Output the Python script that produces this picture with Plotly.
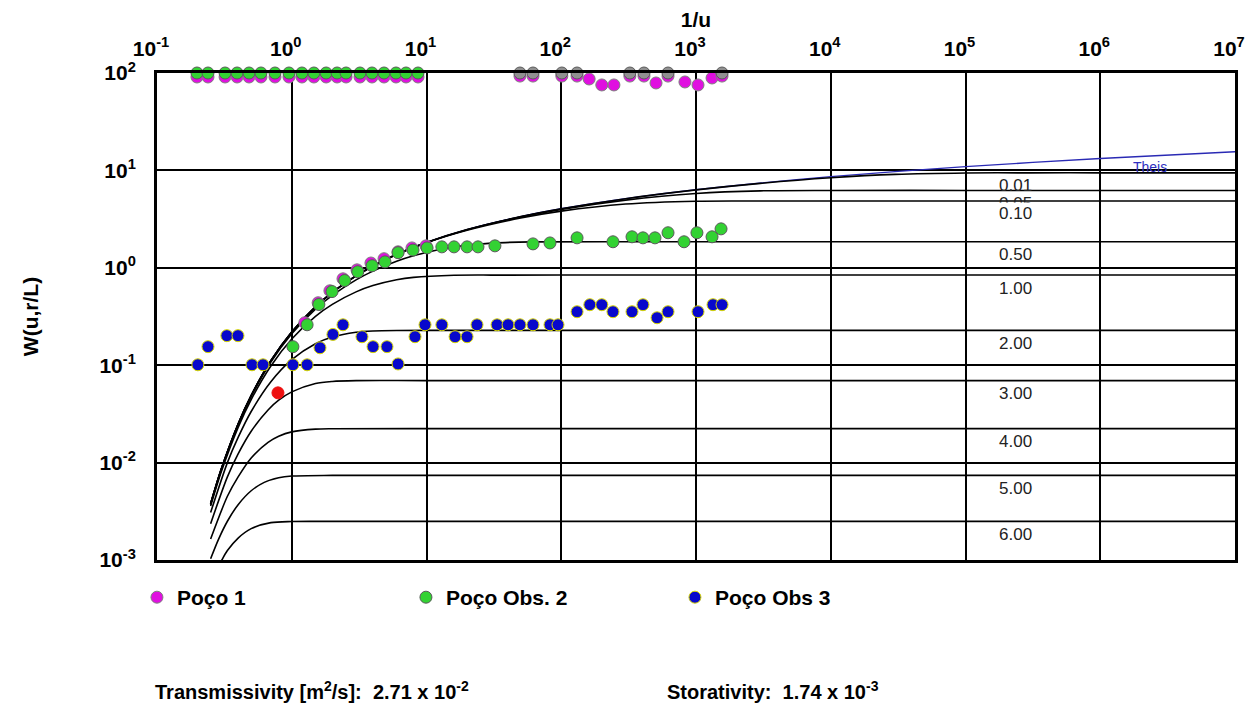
import math
import plotly.graph_objects as go

# ---------------- data ----------------
# x-axis: 1/u ; y-axis: W(u, r/L)
x_ticks = [0.1, 1, 10, 100, 1000, 10000, 100000, 1000000, 10000000]
x_tick_labels = ["10<sup>-1</sup>", "10<sup>0</sup>", "10<sup>1</sup>", "10<sup>2</sup>", "10<sup>3</sup>",
                 "10<sup>4</sup>", "10<sup>5</sup>", "10<sup>6</sup>", "10<sup>7</sup>"]
y_ticks = [0.001, 0.01, 0.1, 1, 10, 100]
y_tick_labels = ["10<sup>-3</sup>", "10<sup>-2</sup>", "10<sup>-1</sup>", "10<sup>0</sup>", "10<sup>1</sup>", "10<sup>2</sup>"]

# Theis type curve
theis_x = [0.25, 0.3, 0.4, 0.5, 0.7, 1, 1.5, 2, 3, 5, 7, 10, 20, 50, 100, 300, 1000, 1e4, 1e5, 1e6, 1e7]
theis_w = [0.00378, 0.00858, 0.02491, 0.0489, 0.1113, 0.2194, 0.3989, 0.5598, 0.829, 1.2227, 1.5068,
           1.8229, 2.4679, 3.3547, 4.0379, 5.130, 6.3315, 8.6332, 10.9357, 13.2383, 15.5409]

# leaky type curves, r/L labels
curve_labels = ["0.01", "0.05", "0.10", "0.50", "1.00", "2.00", "3.00", "4.00", "5.00", "6.00"]

c001_x = [0.25, 0.3, 0.4, 0.5, 0.7, 1, 1.5, 2, 3, 5, 7, 10, 20, 50, 100, 300, 1000, 3000, 1e4, 3e4, 1e5, 3e5, 1e6, 1e7]
c001_w = [0.00378, 0.00858, 0.02491, 0.0489, 0.1113, 0.2194, 0.3989, 0.5598, 0.829, 1.2227, 1.5068, 1.8229,
          2.4679, 3.3545, 4.035, 5.122, 6.307, 7.356, 8.398, 9.102, 9.418, 9.441, 9.4425, 9.4425]

c005_x = [0.25, 0.3, 0.4, 0.5, 0.7, 1, 1.5, 2, 3, 5, 7, 10, 20, 40, 100, 300, 1000, 3000, 1e4, 1e5, 1e7]
c005_w = [0.00378, 0.00857, 0.02489, 0.0488, 0.1111, 0.2190, 0.3980, 0.5585, 0.8272, 1.2195, 1.5025, 1.818,
          2.458, 3.114, 3.980, 4.953, 5.797, 6.170, 6.226, 6.2285, 6.2285]

c010_x = [0.25, 0.3, 0.4, 0.5, 0.7, 1, 1.5, 2, 3, 5, 10, 20, 50, 100, 300, 1000, 3000, 1e4, 1e7]
c010_w = [0.00378, 0.00857, 0.02489, 0.0488, 0.1112, 0.2190, 0.3980, 0.5594, 0.8257, 1.2155, 1.805, 2.427,
          3.244, 3.815, 4.514, 4.829, 4.852, 4.854, 4.854]

c050_x = [0.25, 0.3, 0.4, 0.5, 0.7, 1, 1.5, 2, 3, 4, 6, 8, 12, 16, 32, 64, 200, 1e7]
c050_w = [0.0037, 0.00845, 0.02441, 0.0477, 0.1078, 0.2103, 0.3764, 0.5207, 0.7513, 0.9244, 1.1667, 1.328,
          1.526, 1.6385, 1.8011, 1.845, 1.8488, 1.8488]

c100_x = [0.25, 0.3, 0.4, 0.5, 0.7, 1, 1.5, 2, 3, 4, 6, 8, 16, 32, 100, 1e7]
c100_w = [0.00358, 0.00805, 0.02301, 0.0444, 0.0981, 0.1855, 0.3172, 0.4210, 0.566, 0.6565, 0.7534, 0.7976,
          0.8384, 0.8418, 0.842, 0.842]

c200_x = [0.25, 0.333, 0.4, 0.5, 0.7, 1, 1.5, 2, 3, 4, 6, 10, 1e7]
c200_w = [0.00307, 0.0100, 0.01814, 0.03347, 0.0676, 0.1139, 0.1659, 0.1943, 0.2178, 0.2247, 0.2275, 0.2278, 0.2278]

c300_x = [0.25, 0.333, 0.4, 0.5, 0.667, 0.8, 1, 1.5, 2, 3, 10, 1e7]
c300_w = [0.00236, 0.00714, 0.0123, 0.0210, 0.0347, 0.0437, 0.0532, 0.0649, 0.0681, 0.0694, 0.06949, 0.06949]

c400_x = [0.25, 0.333, 0.4, 0.5, 0.667, 0.8, 1, 1.5, 2, 10, 1e7]
c400_w = [0.00164, 0.00451, 0.00713, 0.01116, 0.01613, 0.01863, 0.02068, 0.02209, 0.02229, 0.02232, 0.02232]

c500_x = [0.25, 0.286, 0.333, 0.4, 0.5, 0.625, 0.8, 1, 2, 10, 1e7]
c500_w = [0.00103, 0.00163, 0.0025, 0.0037, 0.00514, 0.00627, 0.00699, 0.00728, 0.00739, 0.007392, 0.007392]

c600_x = [0.25, 0.303, 0.333, 0.4, 0.5, 0.7, 1, 2, 10, 1e7]
c600_w = [0.00059, 0.001, 0.00125, 0.00168, 0.0021, 0.00242, 0.002485, 0.00249, 0.00249, 0.00249]

# Poço 1 (pumping well) – clipped top row + early points
p1_x = [0.198, 0.239, 0.320, 0.393, 0.482, 0.591, 0.751, 0.954, 1.19, 1.46, 1.80, 2.17, 2.53, 3.21, 3.94,
        4.84, 5.94, 7.05, 8.65,
        49.4, 61.7, 101, 131, 161, 200, 246, 323, 411, 505, 620, 828, 1035, 1315, 1560,
        1.25, 1.57, 1.92, 2.40, 3.05, 3.87, 4.84, 6.15, 7.80, 9.92]
p1_w = [91, 91, 91, 91, 91, 91, 91, 91, 91, 91, 91, 91, 91, 91, 91,
        91, 91, 91, 91,
        93, 93, 93, 93, 86.8, 75.4, 75.4, 93, 93, 79, 93, 80.9, 75.4, 88.9, 93,
        0.273, 0.438, 0.581, 0.771, 0.953, 1.12, 1.24, 1.46, 1.60, 1.68]

# Poço Obs. 2
obs2_x = [1.02, 1.30, 1.59, 1.99, 2.47, 3.09, 3.95, 4.92, 6.15, 7.94, 10.1, 13.0, 16.0, 20.0, 24.1, 32.2,
          61.7, 82.5, 131, 242, 335, 404, 496, 620, 815, 1016, 1315, 1534,
          0.198, 0.239, 0.320, 0.393, 0.482, 0.591, 0.751, 0.954, 1.19, 1.46, 1.80, 2.17, 2.53, 3.21, 3.94,
          4.84, 5.94, 7.05, 8.65,
          49.4, 61.7, 101, 131, 323, 411, 620, 1560]
obs2_w = [0.155, 0.26, 0.42, 0.57, 0.74, 0.91, 1.05, 1.15, 1.43, 1.52, 1.60, 1.64, 1.64, 1.64, 1.64, 1.68,
          1.76, 1.80, 2.03, 1.85, 2.08, 2.03, 2.03, 2.29, 1.85, 2.29, 2.08, 2.51,
          100, 100, 100, 100, 100, 100, 100, 100, 100, 100, 100, 100, 100, 100, 100,
          100, 100, 100, 100,
          100, 100, 100, 100, 100, 100, 100, 100]

# Poço Obs 3
obs3_x = [0.201, 0.239, 0.330, 0.399, 0.507, 0.612, 1.02, 1.30, 1.62, 2.02, 2.40, 3.32, 4.01, 5.09, 6.15,
          8.22, 9.75, 13.0, 16.3, 20.0, 23.7, 33.4, 40.3, 49.4, 61.7, 82.5, 94.6, 131, 163, 200, 242, 335,
          404, 514, 620, 1035, 1337, 1560]
obs3_w = [0.101, 0.155, 0.201, 0.201, 0.101, 0.101, 0.101, 0.101, 0.151, 0.207, 0.260, 0.196, 0.155, 0.155,
          0.103, 0.196, 0.260, 0.260, 0.196, 0.196, 0.260, 0.26, 0.26, 0.26, 0.26, 0.26, 0.26, 0.354, 0.418,
          0.418, 0.354, 0.354, 0.418, 0.307, 0.354, 0.354, 0.418, 0.418]

# selected match point (red)
match_x = [0.79]
match_w = [0.052]

transmissivity_text = "Transmissivity [m<sup>2</sup>/s]:\u00a0\u00a02.71 x 10<sup>-2</sup>"
storativity_text = "Storativity:\u00a0\u00a01.74 x 10<sup>-3</sup>"

# ---------------- figure ----------------
FONT = "Arial, 'Liberation Sans', sans-serif"
fig = go.Figure()

fig.add_trace(go.Scatter(x=theis_x, y=theis_w, mode="lines", showlegend=False, hoverinfo="skip",
                         line=dict(color="#2a2ab4", width=1.4, shape="spline", smoothing=0.8)))

curves_x = [c001_x, c005_x, c010_x, c050_x, c100_x, c200_x, c300_x, c400_x, c500_x, c600_x]
curves_w = [c001_w, c005_w, c010_w, c050_w, c100_w, c200_w, c300_w, c400_w, c500_w, c600_w]
for cx, cw in zip(curves_x, curves_w):
    fig.add_trace(go.Scatter(x=cx, y=cw, mode="lines", showlegend=False, hoverinfo="skip",
                             line=dict(color="black", width=1.6, shape="spline", smoothing=0.8)))

fig.add_trace(go.Scatter(x=p1_x, y=p1_w, mode="markers", name="Poço 1", cliponaxis=False,
                         marker=dict(size=12, color="#e010e0", line=dict(color="#808080", width=1))))

obs2_colors = ["#909090" if (w >= 100 and x > 20) else "#33d233" for x, w in zip(obs2_x, obs2_w)]
fig.add_trace(go.Scatter(x=obs2_x, y=obs2_w, mode="markers", name="Poço Obs. 2", cliponaxis=False,
                         marker=dict(size=12, color=obs2_colors, line=dict(color="#5a5a5a", width=1))))

fig.add_trace(go.Scatter(x=obs3_x, y=obs3_w, mode="markers", name="Poço Obs 3", cliponaxis=False,
                         marker=dict(size=12, color="#0808cc", line=dict(color="#d6d600", width=1))))

fig.add_trace(go.Scatter(x=match_x, y=match_w, mode="markers", showlegend=False,
                         marker=dict(size=12, color="#ee1010", line=dict(color="#ee1010", width=1))))

# curve labels just under each plateau line
annotations = []
for lab, cw in zip(curve_labels, curves_w):
    annotations.append(dict(x=5.234, y=math.log10(cw[-1]), xref="x", yref="y", text=lab, showarrow=False,
                            xanchor="left", yanchor="middle", yshift=-13,
                            bgcolor="white" if lab == "0.10" else None,
                            font=dict(family=FONT, size=17, color="#222222")))
annotations.append(dict(x=6.369, y=1.03, xref="x", yref="y", text="Theis", showarrow=False,
                        xanchor="center", yanchor="middle", font=dict(family=FONT, size=14, color="#3030c0")))
annotations.append(dict(x=-0.004, y=-0.267, xref="paper", yref="paper", text=transmissivity_text,
                        showarrow=False, xanchor="left", yanchor="middle",
                        font=dict(family=FONT, size=20, color="black", weight="bold")))
annotations.append(dict(x=0.471, y=-0.267, xref="paper", yref="paper", text=storativity_text,
                        showarrow=False, xanchor="left", yanchor="middle",
                        font=dict(family=FONT, size=20, color="black", weight="bold")))

# the page body adds an 8 px margin, so the figure is smaller and the margins compensate
fig.update_layout(
    width=1249, height=700,
    margin=dict(l=149, r=22, t=65, b=148),
    paper_bgcolor="white", plot_bgcolor="white",
    font=dict(family=FONT, color="black"),
    xaxis=dict(type="log", range=[-1, 7], side="top", tickmode="array", tickvals=x_ticks, ticktext=x_tick_labels,
               tickfont=dict(family=FONT, size=21, weight="bold", color="black"), ticks="",
               ticklabelstandoff=6, ticklabelshift=-6, automargin=False,
               showgrid=True, gridcolor="black", gridwidth=1.5, zeroline=False,
               showline=True, linecolor="black", linewidth=3, mirror=True,
               title=dict(text="1/u", font=dict(family=FONT, size=21, weight="bold"), standoff=2)),
    yaxis=dict(type="log", range=[-3, 2], tickmode="array", tickvals=y_ticks, ticktext=y_tick_labels,
               tickfont=dict(family=FONT, size=21, weight="bold", color="black"), ticks="",
               ticklabelstandoff=14, automargin=False,
               showgrid=True, gridcolor="black", gridwidth=1.5, zeroline=False,
               showline=True, linecolor="black", linewidth=3, mirror=True,
               title=dict(text="W(u,r/L)", font=dict(family=FONT, size=21, weight="bold"), standoff=56)),
    legend=dict(orientation="h", x=-0.0186, y=-0.035, xanchor="left", yanchor="top",
                font=dict(family=FONT, size=21, weight="bold", color="black"),
                entrywidth=224, entrywidthmode="pixels", bgcolor="rgba(0,0,0,0)"),
    annotations=annotations,
)

fig.write_html("out.html")
